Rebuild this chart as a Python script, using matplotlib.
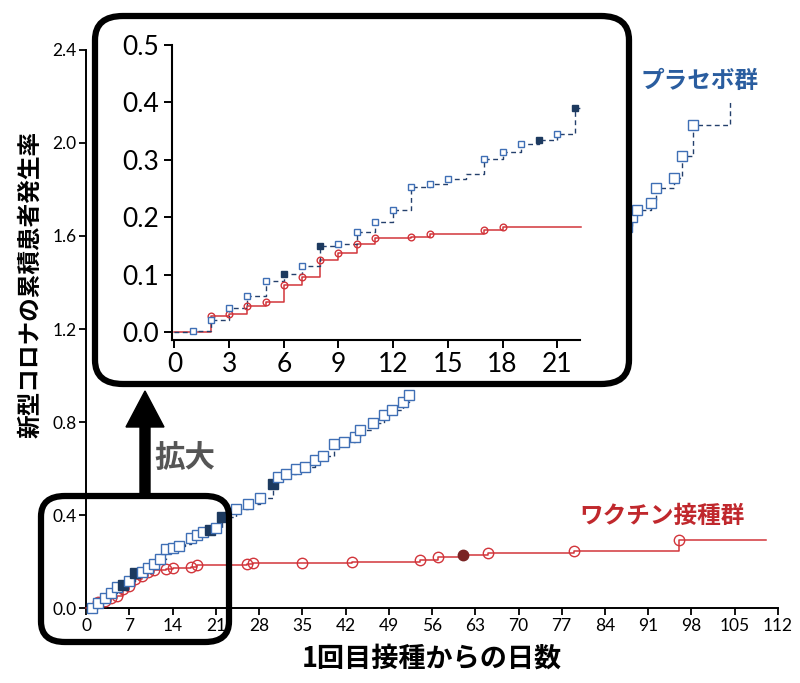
import matplotlib
matplotlib.use("Agg")
import matplotlib.pyplot as plt
from matplotlib.patches import FancyBboxPatch, FancyArrow

# ---- data ----
vac_days = [0, 2, 3, 4, 5, 6, 7, 8, 9, 10, 11, 13, 14, 17, 18, 26, 27, 35, 43, 54, 57, 61, 65, 79, 96]
vac_rate = [0.0, 0.027, 0.032, 0.045, 0.053, 0.082, 0.096, 0.126, 0.137, 0.153, 0.164, 0.166, 0.171,
            0.177, 0.183, 0.188, 0.193, 0.195, 0.199, 0.206, 0.218, 0.228, 0.238, 0.246, 0.292]
vac_filled = [61]
vac_end = 110

# placebo, first visible part (days 0-53)
pla_days_a = [0, 1, 2, 3, 4, 5, 6, 7, 8, 9, 10, 11, 12, 13, 14, 15, 16, 17, 18, 19, 20, 21, 22,
              24.3, 26.2, 28.1, 30.2, 31.1, 32.4, 34.0, 35.4, 37.0, 38.3, 40.2, 41.8, 43.5, 44.3,
              46.4, 48.3, 49.6, 51.3, 52.3]
pla_rate_a = [0.0, 0.001, 0.020, 0.041, 0.063, 0.089, 0.101, 0.115, 0.149, 0.153, 0.174, 0.191, 0.212,
              0.253, 0.258, 0.267, 0.276, 0.301, 0.314, 0.328, 0.334, 0.344, 0.391,
              0.424, 0.447, 0.472, 0.533, 0.562, 0.576, 0.596, 0.605, 0.637, 0.654, 0.705, 0.715,
              0.734, 0.766, 0.797, 0.830, 0.852, 0.888, 0.916]
# steps with no marker
pla_nomark = [0, 16]
pla_filled = [6, 8, 20, 22, 30.2]
# placebo, part visible right of the inset (days 87-104)
pla_days_b = [87.6, 88.4, 89.2, 91.5, 92.3, 95.2, 96.4, 98.2, 104.2]
pla_rate_b = [1.640, 1.683, 1.712, 1.741, 1.806, 1.849, 1.944, 2.077, 2.185]

main_xticks = list(range(0, 113, 7))
main_yticks = [0.0, 0.4, 0.8, 1.2, 1.6, 2.0, 2.4]
inset_xticks = list(range(0, 22, 3))
inset_yticks = [0.0, 0.1, 0.2, 0.3, 0.4, 0.5]

BLUE = "#3f6fb5"
NAVY = "#1d3a5f"
LINE_B = "#24406c"
RED = "#d2353b"
DRED = "#7a2424"

jp = ["Noto Sans CJK JP", "DejaVu Sans"]
num = ["Lato", "DejaVu Sans"]

fig = plt.figure(figsize=(8, 6.83), dpi=100)


def draw(ax, ms_sq, ms_ci, xmax):
    # vaccine
    vx = [d for d in vac_days if d <= xmax]
    vy = vac_rate[:len(vx)]
    end = min(vac_end, xmax)
    ax.step(vx + [end], vy + [vy[-1]], where="post", color=RED, lw=1.1, zorder=3, clip_on=False)
    for d, r in zip(vx[1:], vy[1:]):
        fc = DRED if d in vac_filled else "none"
        ax.plot(d, r, "o", ms=ms_ci, mfc=fc, mec=RED if fc == "none" else DRED, mew=1.0,
                zorder=4, clip_on=False)
    # placebo
    segs = [(pla_days_a, pla_rate_a)]
    if xmax > 60:
        segs.append((pla_days_b, pla_rate_b))
    for days, rates in segs:
        px = [d for d in days if d <= xmax]
        py = rates[:len(px)]
        if days is pla_days_a:
            last = min(53.0, xmax)
            px2, py2 = px + [last], py + [py[-1]]
        else:
            px2, py2 = [86.0] + px, [1.60] + py
        ax.step(px2, py2, where="post", color=LINE_B, lw=1.0, ls=(0, (3.5, 2.5)), zorder=3,
                clip_on=False)
        for d, r in zip(px, py):
            if d in pla_nomark or d == px[-1] and days is pla_days_b:
                continue
            filled = d in pla_filled
            ax.plot(d, r, "s", ms=ms_sq, mfc=NAVY if filled else "white", mec=NAVY if filled else BLUE,
                    mew=1.0, zorder=5, clip_on=False)


# ---- main axes ----
ax = fig.add_axes([0.1075, 0.1098, 0.865, 0.817])
draw(ax, 7.5, 7.5, 112)
ax.set_xlim(0, 112)
ax.set_ylim(0, 2.4)
ax.set_xticks(main_xticks)
ax.set_yticks(main_yticks)
ax.set_yticklabels([f"{v:.1f}" for v in main_yticks])
for s in ["top", "right"]:
    ax.spines[s].set_visible(False)
for s in ["left", "bottom"]:
    ax.spines[s].set_linewidth(1.4)
ax.tick_params(direction="out", length=5, width=1.3, labelsize=12.5, pad=2)
for lab in ax.get_xticklabels() + ax.get_yticklabels():
    lab.set_family(num)
ax.set_xlabel("1回目接種からの日数", family=jp, fontsize=19.5, fontweight="bold", labelpad=8)
fig.text(0.038, 0.583, "新型コロナの累積患者発生率", family=jp, fontsize=17, fontweight="bold",
         rotation=90, ha="center", va="center")

# ---- big rounded box + inset ----
big = FancyBboxPatch((95 / 800, 1 - 384 / 683), (629 - 95) / 800, (384 - 16) / 683,
                     boxstyle="round,pad=0,rounding_size=0.035", transform=fig.transFigure,
                     fc="white", ec="black", lw=4.5, zorder=1)
fig.patches.append(big)
small = FancyBboxPatch((41 / 800, 1 - 642 / 683), (229 - 41) / 800, (642 - 496) / 683,
                       boxstyle="round,pad=0,rounding_size=0.03", transform=fig.transFigure,
                       fc="none", ec="black", lw=4.5, zorder=1)
fig.patches.append(small)
arr = FancyArrow(145 / 800, 1 - 494 / 683, 0, (494 - 391) / 683, width=10 / 800,
                 head_width=38 / 800, head_length=36 / 683, length_includes_head=True,
                 transform=fig.transFigure, fc="black", ec="black", zorder=1)
fig.patches.append(arr)

axi = fig.add_axes([0.2146, 0.5022, 0.5104, 0.432], zorder=2)
axi.patch.set_alpha(0)
draw(axi, 4.8, 4.8, 22.3)
axi.set_xlim(-0.15, 22.25)
axi.set_ylim(-0.014, 0.5)
axi.set_xticks(inset_xticks)
axi.set_yticks(inset_yticks)
axi.set_yticklabels([f"{v:.1f}" for v in inset_yticks])
for s in ["top", "right"]:
    axi.spines[s].set_visible(False)
for s in ["left", "bottom"]:
    axi.spines[s].set_linewidth(1.5)
axi.tick_params(direction="out", length=6, width=1.4, labelsize=19, pad=3)
for lab in axi.get_xticklabels() + axi.get_yticklabels():
    lab.set_family(num)

# ---- annotations ----
fig.text(154 / 800, 1 - 458 / 683, "拡大", family=jp, fontsize=22, fontweight="bold",
         color="#555555", ha="left", va="center")
fig.text(700 / 800, 1 - 81 / 683, "プラセボ群", family=jp, fontsize=17, fontweight="bold",
         color="#2a5d9f", ha="center", va="center")
fig.text(662 / 800, 1 - 516 / 683, "ワクチン接種群", family=jp, fontsize=17, fontweight="bold",
         color="#c0282d", ha="center", va="center")

fig.savefig("out.png", dpi=100)
